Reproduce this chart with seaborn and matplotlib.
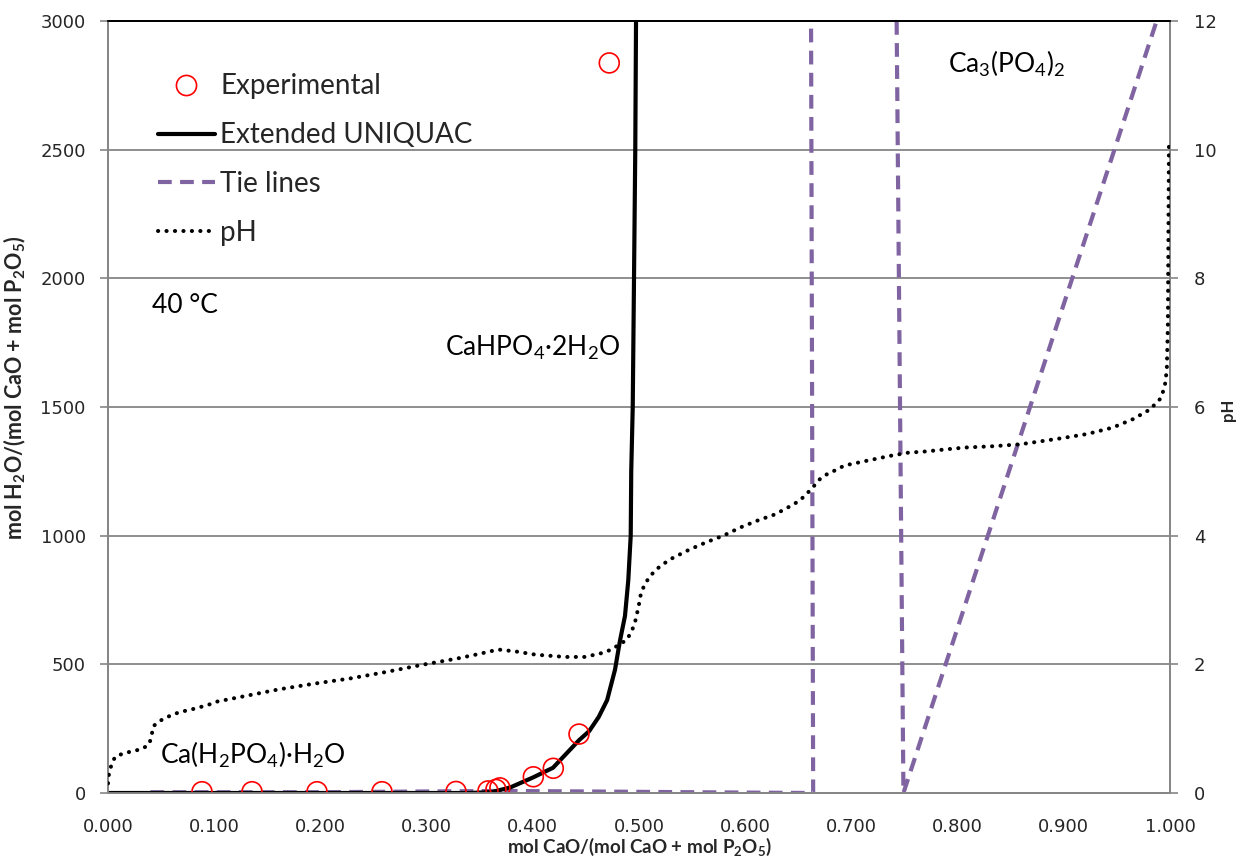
import matplotlib
matplotlib.use("Agg")
import matplotlib.pyplot as plt
from matplotlib.lines import Line2D
import numpy as np
import pandas as pd
import seaborn as sns

# ---------------- data ----------------
exp_x = [0.0885, 0.1356, 0.1968, 0.258, 0.3277, 0.3578, 0.3653, 0.369, 0.4005, 0.4193, 0.4435, 0.472]
exp_y = [5, 5, 5, 5, 6, 8, 14, 20, 63, 96, 229, 2837]

uniquac_x = [0.000, 0.100, 0.200, 0.300, 0.340, 0.362, 0.379, 0.400, 0.419, 0.4435, 0.453,
             0.462, 0.470, 0.4774, 0.482, 0.4868, 0.4899, 0.4922, 0.4927, 0.4941, 0.4953,
             0.4965, 0.4972]
uniquac_y = [0, 0, 0, 0, 0, 4, 22, 60, 98, 205, 240, 295, 361, 479, 590, 688, 826, 1000,
             1253, 1500, 2000, 2505, 3000]

tie_seg = [0, 0, 0, 0, 0, 0, 0, 1, 1, 1]
tie_x = [0.040, 0.200, 0.370, 0.450, 0.550, 0.664, 0.662, 0.7426, 0.749, 0.9874]
tie_y = [3, 3, 8, 6, 3, 0, 3000, 3000, 0, 3000]

ph_x = [0.000, 0.001, 0.0035, 0.0066, 0.015, 0.0238, 0.0327, 0.0389, 0.0411, 0.0427, 0.0499,
        0.0584, 0.0678, 0.0766, 0.0857, 0.0944, 0.1024, 0.127, 0.1606, 0.1943, 0.2279,
        0.2615, 0.2951, 0.3287, 0.349, 0.3674, 0.384, 0.4027, 0.4303, 0.449, 0.4664, 0.474,
        0.4884, 0.493, 0.4962, 0.4984, 0.5003, 0.5019, 0.5056, 0.5104, 0.5166, 0.5238,
        0.5314, 0.547, 0.5637, 0.5794, 0.5958, 0.6124, 0.628, 0.6438, 0.6516, 0.6585,
        0.6641, 0.6704, 0.6783, 0.6855, 0.6933, 0.7018, 0.719, 0.7363, 0.7536, 0.7709,
        0.788, 0.807, 0.833, 0.859, 0.896, 0.922, 0.946, 0.965, 0.981, 0.991, 0.995,
        0.997, 0.998, 0.9985, 0.999]
ph_y = [0.15, 0.31, 0.45, 0.56, 0.62, 0.65, 0.69, 0.76, 0.90, 1.04, 1.13, 1.20, 1.26, 1.29,
        1.33, 1.37, 1.42, 1.50, 1.61, 1.70, 1.78, 1.88, 1.99, 2.09, 2.16, 2.23, 2.20, 2.15,
        2.115, 2.115, 2.18, 2.23, 2.38, 2.51, 2.65, 2.81, 2.96, 3.11, 3.25, 3.37, 3.48, 3.57,
        3.65, 3.78, 3.90, 4.00, 4.13, 4.24, 4.33, 4.47, 4.55, 4.66, 4.76, 4.88, 4.97, 5.02,
        5.09, 5.12, 5.18, 5.24, 5.29, 5.31, 5.34, 5.37, 5.39, 5.42, 5.51, 5.58, 5.68, 5.81,
        5.96, 6.13, 6.31, 6.58, 7.28, 8.67, 10.05]

x_ticks = [0.0, 0.1, 0.2, 0.3, 0.4, 0.5, 0.6, 0.7, 0.8, 0.9, 1.0]
y_ticks = [0, 500, 1000, 1500, 2000, 2500, 3000]
ph_ticks = [0, 2, 4, 6, 8, 10, 12]

legend_labels = ["Experimental", "Extended UNIQUAC", "Tie lines", "pH"]

# ---------------- style ----------------
sns.set_style("white")
plt.rcParams["font.family"] = ["Lato", "DejaVu Sans"]
plt.rcParams["mathtext.default"] = "regular"

GRAY = "#868686"
PURPLE = "#8064A2"
DOT = (0, (0.05, 2.05))
DASH = (0, (3.3, 2.0))

fig = plt.figure(figsize=(12.41, 8.59), dpi=100)
ax = fig.add_axes([108 / 1241, 1 - 793 / 859, (1170 - 108) / 1241, (793 - 21) / 859])
ax2 = ax.twinx()

df_exp = pd.DataFrame({"x": exp_x, "y": exp_y})
df_uq = pd.DataFrame({"x": uniquac_x, "y": uniquac_y})
df_tie = pd.DataFrame({"x": tie_x, "y": tie_y, "seg": tie_seg})
df_ph = pd.DataFrame({"x": ph_x, "y": ph_y})

ax.yaxis.grid(True, color=GRAY, linewidth=1.3)
ax.set_axisbelow(True)

sns.lineplot(data=df_tie, x="x", y="y", units="seg", estimator=None, sort=False, ax=ax,
             color=PURPLE, linewidth=3.0, linestyle=DASH, zorder=2)
sns.lineplot(data=df_uq, x="x", y="y", sort=False, estimator=None, ax=ax,
             color="black", linewidth=3.0, zorder=3)
sns.scatterplot(data=df_exp, x="x", y="y", ax=ax, marker="o", s=205,
                facecolors="none", edgecolors="red", linewidths=1.2, zorder=4)
sns.lineplot(data=df_ph, x="x", y="y", sort=False, estimator=None, ax=ax2,
             color="black", linewidth=2.9, linestyle=DOT,
             dash_capstyle="round", zorder=3)

ax.set_xlim(0, 1.0)
ax.set_ylim(0, 3000)
ax2.set_ylim(0, 12)
ax.set_xticks(x_ticks)
ax.set_xticklabels([f"{t:.3f}" for t in x_ticks])
ax.set_yticks(y_ticks)
ax.set_yticklabels([str(t) for t in y_ticks])
ax2.set_yticks(ph_ticks)
ax2.set_yticklabels([str(t) for t in ph_ticks])

for a in (ax, ax2):
    for side in ("left", "right", "bottom"):
        a.spines[side].set_color(GRAY)
        a.spines[side].set_linewidth(1.3)
    a.spines["top"].set_color("black")
    a.spines["top"].set_linewidth(1.3)

ax.tick_params(axis="x", direction="out", length=6, width=1.2, color=GRAY, pad=12)
ax.tick_params(axis="y", direction="out", length=6, width=1.2, color=GRAY, pad=10)
ax2.tick_params(axis="y", direction="out", length=6, width=1.2, color=GRAY, pad=11)
for lab in ax.get_xticklabels() + ax.get_yticklabels() + ax2.get_yticklabels():
    lab.set_fontfamily("DejaVu Sans")
    lab.set_fontsize(13)

ax.set_xlabel("mol CaO/(mol CaO + mol P$_2$O$_5$)", fontsize=13.5, fontweight="bold",
              labelpad=0)
ax.set_ylabel("mol H$_2$O/(mol CaO + mol P$_2$O$_5$)", fontsize=15.5, fontweight="bold")
ax.yaxis.set_label_coords(-0.0755, 0.525)
ax2.set_ylabel("pH", fontsize=12, fontweight="bold")
ax2.yaxis.set_label_coords(1.0467, 0.497)

# ---------------- annotations ----------------
ann = dict(fontsize=19, color="black", va="center", ha="left")
ax.text(0.0414, 1896, "40 °C", **ann)
ax.text(0.317, 1729, "CaHPO$_4$·2H$_2$O", **ann)
ax.text(0.049, 148, "Ca(H$_2$PO$_4$)·H$_2$O", **ann)
ax.text(0.791, 2833, "Ca$_3$(PO$_4$)$_2$", **ann)

# ---------------- legend ----------------
handles = [
    Line2D([], [], linestyle="none", marker="o", markersize=14.5, markerfacecolor="none",
           markeredgecolor="red", markeredgewidth=1.2),
    Line2D([], [], color="black", linewidth=3.0),
    Line2D([], [], color=PURPLE, linewidth=3.0, linestyle=DASH),
    Line2D([], [], color="black", linewidth=2.9, linestyle=DOT, dash_capstyle="round"),
]
leg = ax2.legend(handles, legend_labels, loc="upper left", bbox_to_anchor=(0.047, 0.932),
                 frameon=False, fontsize=20, handlelength=2.05, handletextpad=0.2,
                 labelspacing=0.82, borderpad=0, borderaxespad=0)

fig.savefig("out.png", dpi=100)
